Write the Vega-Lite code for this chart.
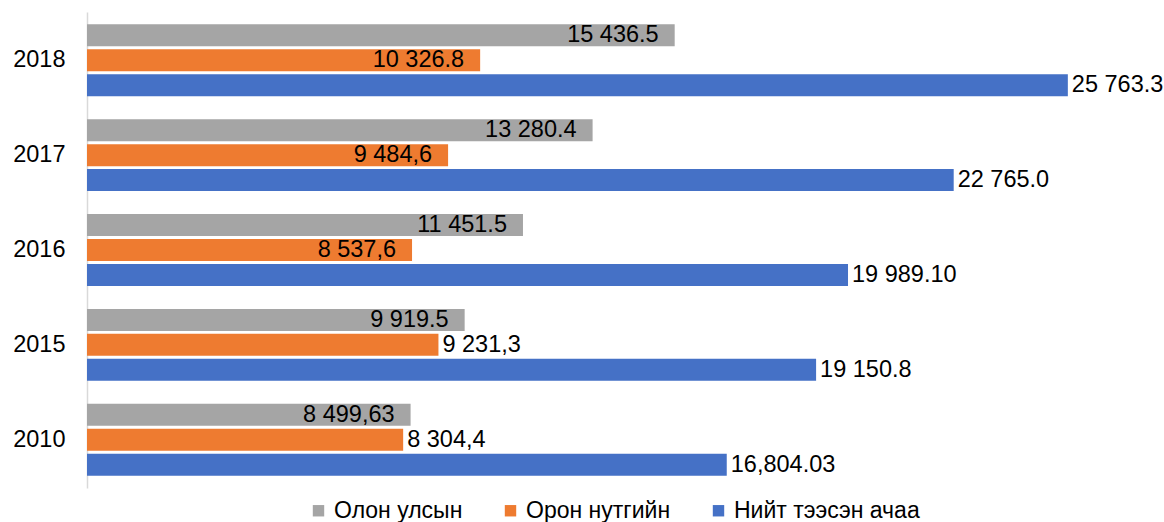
{
  "$schema": "https://vega.github.io/schema/vega-lite/v6.json",
  "width": 1066,
  "height": 476,
  "autosize": {"type": "none"},
  "padding": {"left": 87, "top": 12, "right": 11, "bottom": 34},
  "background": "white",
  "config": {
    "view": {"stroke": null},
    "font": "Liberation Sans",
    "text": {"font": "Liberation Sans"}
  },
  "data": {
    "values": [
      {"year": "2018", "series": "Олон улсын", "value": 15436.5, "label": "15 436.5"},
      {"year": "2018", "series": "Орон нутгийн", "value": 10326.8, "label": "10 326.8"},
      {"year": "2018", "series": "Нийт тээсэн ачаа", "value": 25763.3, "label": "25 763.3"},
      {"year": "2017", "series": "Олон улсын", "value": 13280.4, "label": "13 280.4"},
      {"year": "2017", "series": "Орон нутгийн", "value": 9484.6, "label": "9 484,6"},
      {"year": "2017", "series": "Нийт тээсэн ачаа", "value": 22765.0, "label": "22 765.0"},
      {"year": "2016", "series": "Олон улсын", "value": 11451.5, "label": "11 451.5"},
      {"year": "2016", "series": "Орон нутгийн", "value": 8537.6, "label": "8 537,6"},
      {"year": "2016", "series": "Нийт тээсэн ачаа", "value": 19989.1, "label": "19 989.10"},
      {"year": "2015", "series": "Олон улсын", "value": 9919.5, "label": "9 919.5"},
      {"year": "2015", "series": "Орон нутгийн", "value": 9231.3, "label": "9 231,3"},
      {"year": "2015", "series": "Нийт тээсэн ачаа", "value": 19150.8, "label": "19 150.8"},
      {"year": "2010", "series": "Олон улсын", "value": 8499.63, "label": "8 499,63"},
      {"year": "2010", "series": "Орон нутгийн", "value": 8304.4, "label": "8 304,4"},
      {"year": "2010", "series": "Нийт тээсэн ачаа", "value": 16804.03, "label": "16,804.03"}
    ]
  },
  "encoding": {
    "y": {
      "field": "year",
      "type": "nominal",
      "sort": ["2018", "2017", "2016", "2015", "2010"],
      "scale": {"paddingInner": 0.242, "paddingOuter": 0.13},
      "axis": {
        "title": null,
        "ticks": false,
        "domain": true,
        "domainColor": "#d9d9d9",
        "domainWidth": 1.5,
        "labelPadding": 22,
        "labelFontSize": 23.5,
        "labelColor": "#000000",
        "labelFont": "Liberation Sans"
      }
    },
    "yOffset": {
      "field": "series",
      "type": "nominal",
      "sort": ["Олон улсын", "Орон нутгийн", "Нийт тээсэн ачаа"],
      "scale": {"paddingInner": 0.12, "paddingOuter": 0}
    },
    "x": {
      "field": "value",
      "type": "quantitative",
      "scale": {"domain": [0, 28000], "nice": false, "zero": true},
      "axis": null
    }
  },
  "layer": [
    {
      "mark": {"type": "bar"},
      "encoding": {
        "color": {
          "field": "series",
          "type": "nominal",
          "sort": ["Олон улсын", "Орон нутгийн", "Нийт тээсэн ачаа"],
          "scale": {
            "domain": ["Олон улсын", "Орон нутгийн", "Нийт тээсэн ачаа"],
            "range": ["#a5a5a5", "#ee7b30", "#4571c6"]
          },
          "legend": {
            "title": null,
            "orient": "none",
            "direction": "horizontal",
            "legendX": 220,
            "legendY": 487,
            "symbolType": "square",
            "symbolSize": 130,
            "symbolStrokeWidth": 0,
            "labelFontSize": 23,
            "labelFont": "Liberation Sans",
            "labelColor": "#000000",
            "labelOffset": 4,
            "columnPadding": 36,
            "labelLimit": 400
          }
        }
      }
    },
    {
      "transform": [
        {"filter": "datum.series === 'Олон улсын' || (datum.series === 'Орон нутгийн' && (datum.year === '2018' || datum.year === '2017' || datum.year === '2016'))"}
      ],
      "mark": {"type": "text", "align": "right", "baseline": "middle", "dx": -16, "fontSize": 23.5, "font": "Liberation Sans", "color": "#000000"},
      "encoding": {"text": {"field": "label"}}
    },
    {
      "transform": [
        {"filter": "datum.series === 'Нийт тээсэн ачаа' || (datum.series === 'Орон нутгийн' && (datum.year === '2015' || datum.year === '2010'))"}
      ],
      "mark": {"type": "text", "align": "left", "baseline": "middle", "dx": 4, "fontSize": 23.5, "font": "Liberation Sans", "color": "#000000"},
      "encoding": {"text": {"field": "label"}}
    }
  ]
}
